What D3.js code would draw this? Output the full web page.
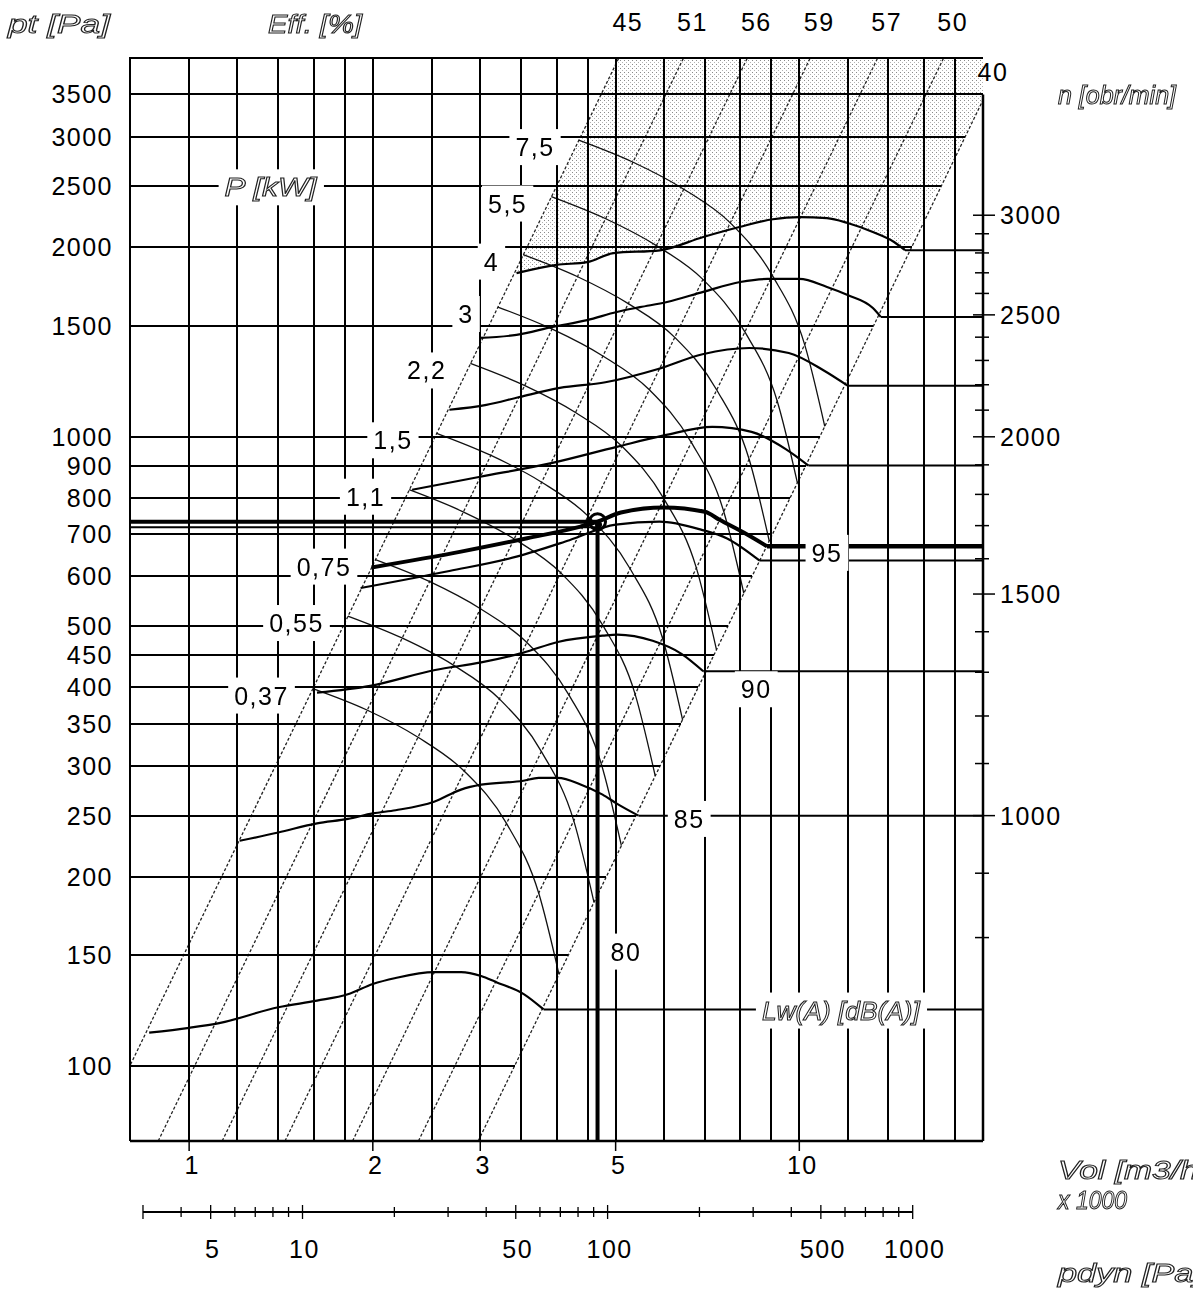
<!DOCTYPE html>
<html lang="en">
<head>
<meta charset="UTF-8" />
<title>Fan chart – pt / Vol</title>
<script src="https://d3js.org/d3.v7.min.js"></script>
<style>
  * { margin:0; padding:0; box-sizing:border-box }
  body { background:#fff; width:1193px; height:1293px; overflow:hidden; }
  text { font-family:'Liberation Sans',Arial,sans-serif; font-size:25px; fill:#000; letter-spacing:1.5px; }
  .ital { font-style:italic; font-size:25px; fill:#fff; stroke:#222; stroke-width:1px; letter-spacing:0; }
</style>
</head>
<body>
<div id="chart"></div>
<script>
// ── grid & axes ─────────────────────────────
const qGrid  = [1,1.2,1.4,1.6,1.8,2,2.5,3,3.5,4,4.5,5,6,7,8,9,10,12,14,16,18];
const pGrid  = [100,150,200,250,300,350,400,450,500,600,700,800,900,1000,1500,2000,2500,3000,3500];
const qTicks = [1,2,3,5,10];
const nTicks = [800,900,1000,1100,1200,1300,1400,1500,1600,1700,1800,1900,2000,
                2100,2200,2300,2400,2500,2600,2700,2800,2900,3000];
const nMajor = [1000,1500,2000,2500,3000];
const pdynTicks  = [3,4,5,6,7,8,9,10,20,30,40,50,60,70,80,90,100,200,300,400,500,600,700,800,900,1000];
const pdynLabels = [5,10,50,100,500,1000];
const pdynFactor = 4.25;           // pdyn = factor * Q^2

// ── efficiency lines (p ~ Q^2), flow at 76 Pa and at 4000 Pa ──
const effLabels  = [45,51,56,59,57,50,40];
const effQBottom = [0.697,0.890,1.133,1.436,1.853,2.376,2.977];
const effQTop    = [5.06,6.46,8.22,10.42,13.44,17.24,21.6];

// ── fan curves per speed [obr/min] ──────────
const q700  = [0.86,1.0,1.12,1.4,1.62,1.82,2.0,2.18,2.52,2.79,3.01,3.18,3.54,3.81];
const p700  = [113,115,117,124,127,130,135,138,141,141,139,136,130,123];
const q1000 = [1.21,1.4,1.62,1.82,2.0,2.18,2.52,2.79,3.01,3.53,3.74,4.02,4.39,4.76,5.03,5.45];
const p1000 = [228,235,243,247,252,255,263,275,280,284,287,287,280,270,261,250];
const q1300 = [1.62,1.98,2.53,3.01,3.53,4.02,4.76,5.03,5.75,6.41,6.96];
const p1300 = [392,402,426,438,454,472,483,485,474,452,424];
const q1600 = [1.91,2.67,3.44,4.2,5.0,5.9,6.9,7.6,8.6];
const p1600 = [575,612,645,685,725,733,712,690,636];
const q1900 = [2.32,3.0,3.94,5.02,6.0,7.2,8.35,9.5,10.35];
const p1900 = [824,864,909,964,1005,1037,1018,956,900];
const q2200 = [2.67,3.07,3.48,4.05,4.81,5.87,6.94,8.28,9.61,10.95,12.0];
const p2200 = [1104,1124,1157,1196,1221,1282,1353,1384,1359,1276,1206];
const q2500 = [2.99,3.44,3.94,4.49,5.02,5.48,6.07,6.96,8.0,8.87,10.0,11.1,12.0,13.2,13.6];
const p2500 = [1436,1452,1495,1533,1579,1607,1638,1700,1762,1782,1782,1730,1680,1602,1551];
const q2800 = [3.44,4.0,4.49,4.96,5.91,6.96,7.98,9.05,10.0,11.1,12.0,13.2,14.3,14.9];
const p2800 = [1820,1876,1895,1959,1979,2078,2155,2217,2235,2226,2187,2116,2040,1980];

// selected speed and operating point
const qSel = [1.99,2.79,3.58,4.38,4.67,5.1,6.0,7.0,7.4,8.2,8.85];
const pSel = [620,657,690,720,733,758,772,760,738,700,670];
const opQ = 4.67, opP = 733, opP2 = 718;

// ── motor power lines P [kW] ────────────────
const powerLabels = ["0,37","0,55","0,75","1,1","1,5","2,2","3","4","5,5","7,5"];
const powerQ = [
  [1.595,1.956,2.372,2.826,3.312,3.742,4.037],
  [1.820,2.232,2.707,3.226,3.779,4.271,4.608],
  [2.019,2.475,3.002,3.577,4.191,4.737,5.110],
  [2.294,2.812,3.411,4.064,4.762,5.381,5.806],
  [2.544,3.118,3.782,4.507,5.281,5.967,6.438],
  [2.890,3.543,4.297,5.120,6.000,6.780,7.315],
  [3.205,3.929,4.765,5.678,6.653,7.518,8.111],
  [3.527,4.324,5.245,6.250,7.323,8.275,8.928],
  [3.922,4.808,5.832,6.950,8.143,9.202,9.928],
  [4.349,5.332,6.467,7.706,9.030,10.204,11.008]
];
const powerP = [
  [398,368,333,294,243,188,140],
  [519,479,434,383,316,245,182],
  [638,589,533,471,389,302,224],
  [824,760,688,608,502,390,289],
  [1013,935,847,748,617,479,355],
  [1308,1207,1093,966,797,619,459],
  [1608,1484,1344,1188,980,761,564],
  [1948,1798,1628,1439,1187,921,683],
  [2409,2223,2013,1779,1468,1139,845],
  [2962,2734,2475,2188,1805,1401,1039]
];

// ── noise labels Lw(A) [dB(A)] ───────────────
const noiseLabels = ["95","90","85","80"];
const noiseQ = [11.1,8.5,6.6,5.2];
const noiseP = [654,397,247,152];

// ── chart ───────────────────────────────────
const W = 1193, H = 1293;
const x = d3.scaleLog().domain([0.8, 20]).range([130, 983]);
const y = d3.scaleLog().domain([76, 4000]).range([1141, 58]);
const nScale = d3.scaleLog()
  .domain([1000*Math.sqrt(76/250), 1000*Math.sqrt(4000/250)])
  .range(y.range());
const pd = d3.scaleLog().domain([3,1000])
  .range([x(Math.sqrt(3/pdynFactor)), x(Math.sqrt(1000/pdynFactor))]);

const [x0,x1] = x.range(), [y0,y1] = y.range();

const svg = d3.select("#chart").append("svg")
  .attr("width",W).attr("height",H).style("display","block");

const defs = svg.append("defs");
defs.append("clipPath").attr("id","plot")
  .append("rect").attr("x",x0).attr("y",y1).attr("width",x1-x0).attr("height",y0-y1);
defs.append("filter").attr("id","gray")
  .append("feColorMatrix").attr("type","saturate").attr("values",0);
const pat = defs.append("pattern").attr("id","dots")
  .attr("width",4).attr("height",4).attr("patternUnits","userSpaceOnUse");
pat.append("rect").attr("width",4).attr("height",4).attr("fill","#fff");
pat.append("rect").attr("x",0).attr("y",0).attr("width",1).attr("height",1).attr("fill","#8a8a8a");
pat.append("rect").attr("x",2).attr("y",2).attr("width",1).attr("height",1).attr("fill","#b4b4b4");

const zip = (qs,ps) => qs.map((q,i)=>[q,ps[i]]);
const line = d3.line().x(d=>x(d[0])).y(d=>y(d[1]));
const smooth = d3.line().x(d=>x(d[0])).y(d=>y(d[1])).curve(d3.curveMonotoneX);

const plot = svg.append("g").attr("clip-path","url(#plot)");

// shaded (out of range) area above the top speed curve
const topCurve = zip(q2800,p2800);
const shade = [[effQTop[0],4000],[20,4000],[20,3430]]
  .concat(topCurve.slice().reverse());
plot.append("path").attr("d", line(shade) + "Z").attr("fill","url(#dots)");

// efficiency lines (dotted)
effLabels.forEach((e,i)=>{
  plot.append("path")
    .attr("d", line([[effQBottom[i],76],[effQTop[i],4000]]))
    .attr("fill","none").attr("stroke","#222").attr("stroke-width",1.3)
    .attr("stroke-dasharray","3,2");
});

// vertical grid
svg.append("g").selectAll("line").data(qGrid).join("line")
  .attr("x1",d=>x(d)).attr("x2",d=>x(d)).attr("y1",y1).attr("y2",y0)
  .attr("stroke","#000").attr("stroke-width",2).attr("shape-rendering","crispEdges");

// horizontal grid – up to the 40 % line
const q40 = p => Math.min(20, effQTop[6]*Math.sqrt(p/4000));
svg.append("g").selectAll("line").data(pGrid).join("line")
  .attr("x1",x0).attr("x2",d=>x(q40(d))).attr("y1",d=>y(d)).attr("y2",d=>y(d))
  .attr("stroke","#000").attr("stroke-width",2).attr("shape-rendering","crispEdges");

// power lines
powerQ.forEach((qs,i)=>{
  plot.append("path").attr("d", smooth(zip(qs,powerP[i])))
    .attr("fill","none").attr("stroke","#111").attr("stroke-width",1.3);
});

// fan curves + noise lines to the right edge
const speedQ = [q700,q1000,q1300,q1600,q1900,q2200,q2500,q2800];
const speedP = [p700,p1000,p1300,p1600,p1900,p2200,p2500,p2800];
speedQ.forEach((qs,i)=>{
  const ps = speedP[i];
  plot.append("path").attr("d", smooth(zip(qs,ps)))
    .attr("fill","none").attr("stroke","#000").attr("stroke-width",2.2);
  const last = ps[ps.length-1];
  svg.append("line").attr("x1",x(qs[qs.length-1])).attr("x2",x1)
    .attr("y1",y(last)).attr("y2",y(last))
    .attr("stroke","#000").attr("stroke-width",2);
});

// selected curve and operating point
svg.append("path").attr("d", smooth(zip(qSel,pSel)))
  .attr("fill","none").attr("stroke","#000").attr("stroke-width",4);
svg.append("line").attr("x1",x(qSel[qSel.length-1])).attr("x2",x1)
  .attr("y1",y(pSel[pSel.length-1])).attr("y2",y(pSel[pSel.length-1]))
  .attr("stroke","#000").attr("stroke-width",4.5);
svg.append("line").attr("x1",x0).attr("x2",x(opQ)).attr("y1",y(opP)).attr("y2",y(opP))
  .attr("stroke","#000").attr("stroke-width",4);
svg.append("line").attr("x1",x0).attr("x2",x(opQ)).attr("y1",y(opP2)).attr("y2",y(opP2))
  .attr("stroke","#000").attr("stroke-width",2);
svg.append("line").attr("x1",x(opQ)).attr("x2",x(opQ)).attr("y1",y(opP)).attr("y2",y0)
  .attr("stroke","#000").attr("stroke-width",4);
svg.append("circle").attr("cx",x(opQ)).attr("cy",y(opP)).attr("r",8)
  .attr("fill","none").attr("stroke","#000").attr("stroke-width",3);
svg.append("circle").attr("cx",x(opQ)+1).attr("cy",y(opP)+3).attr("r",3.5)
  .attr("fill","#000");

// frame
svg.append("path").attr("d",`M${x0},${y0}V${y1}H${x1}`)
  .attr("fill","none").attr("stroke","#000").attr("stroke-width",2);
svg.append("line").attr("x1",x0).attr("x2",x1).attr("y1",y0).attr("y2",y0)
  .attr("stroke","#000").attr("stroke-width",2.5);
svg.append("line").attr("x1",x1).attr("x2",x1).attr("y1",y(3500)).attr("y2",y0)
  .attr("stroke","#000").attr("stroke-width",2.5);

// labels with white boxes
const lab = svg.append("g").attr("filter","url(#gray)");
function boxText(tx, ty, str, cls, anchor, len){
  const t = lab.append("text").attr("x",tx).attr("y",ty)
    .attr("text-anchor",anchor||"middle").attr("class",cls||null).text(str);
  if (len) t.attr("textLength",len).attr("lengthAdjust","spacingAndGlyphs");
  const b = t.node().getBBox();
  lab.insert("rect", ()=>t.node())
    .attr("x",b.x-6).attr("y",b.y-4).attr("width",b.width+12).attr("height",b.height+8)
    .attr("fill","#fff");
}
powerLabels.forEach((s,i)=>{
  boxText(x(powerQ[i][0])-24, y(powerP[i][0])+16, s, null, "end");
});
noiseLabels.forEach((s,i)=>{
  boxText(x(noiseQ[i]), y(noiseP[i])+9, s);
});
boxText(x(1.36), y(2492)+9, "P [kW]", "ital", "middle", 92);
boxText(x(11.7), y(122.5)+9, "Lw(A) [dB(A)]", "ital", "middle", 158);

// left axis labels
svg.append("g").selectAll("text").data(pGrid).join("text")
  .attr("x",113).attr("y",d=>y(d)+9).attr("text-anchor","end").text(d=>d);

// bottom flow axis
svg.append("g").selectAll("line").data(qTicks).join("line")
  .attr("x1",d=>x(d)).attr("x2",d=>x(d)).attr("y1",y0).attr("y2",y0+10)
  .attr("stroke","#000").attr("stroke-width",1.5);
svg.append("g").selectAll("text").data(qTicks).join("text")
  .attr("x",d=>x(d)+3).attr("y",1174).attr("text-anchor","middle").text(d=>d);

// pdyn axis
const pdY = 1212;
svg.append("line").attr("x1",pd(3)).attr("x2",pd(1000)).attr("y1",pdY).attr("y2",pdY)
  .attr("stroke","#000").attr("stroke-width",2);
svg.append("g").selectAll("line").data(pdynTicks).join("line")
  .attr("x1",d=>pd(d)).attr("x2",d=>pd(d))
  .attr("y1",d=>pdY-(pdynLabels.includes(d)||d===3?7:5))
  .attr("y2",d=>pdY+(pdynLabels.includes(d)||d===3?7:5))
  .attr("stroke","#000").attr("stroke-width",1.3);
svg.append("g").selectAll("text").data(pdynLabels).join("text")
  .attr("x",d=>pd(d)+2).attr("y",1258).attr("text-anchor","middle").text(d=>d);

// right speed axis
svg.append("g").selectAll("line").data(nTicks).join("line")
  .attr("x1",d=>x1-(nMajor.includes(d)?10:8)).attr("x2",d=>x1+(nMajor.includes(d)?12:6))
  .attr("y1",d=>nScale(d)).attr("y2",d=>nScale(d))
  .attr("stroke","#000").attr("stroke-width",1.5);
svg.append("g").selectAll("text").data(nMajor).join("text")
  .attr("x",1000).attr("y",d=>nScale(d)+9).text(d=>d);

// efficiency labels at the top
svg.append("g").selectAll("text").data(effLabels.slice(0,6)).join("text")
  .attr("x",(d,i)=>x(effQTop[i])+9).attr("y",31).attr("text-anchor","middle").text(d=>d);
svg.append("text").attr("x",x(20)+10).attr("y",y(3430)-19)
  .attr("text-anchor","middle").text(effLabels[6]);

// axis titles
const titles = [
  ["pt [Pa]",8,33,102],["Eff. [%]",268,33,94],["n [obr/min]",1058,104,118],
  ["Vol [m3/h]",1058,1179,150],["x 1000",1058,1209,69],["pdyn [Pa]",1058,1282,145]
];
svg.append("g").attr("filter","url(#gray)").selectAll("text").data(titles).join("text")
  .attr("class","ital").attr("x",d=>d[1]).attr("y",d=>d[2])
  .attr("textLength",d=>d[3]).attr("lengthAdjust","spacingAndGlyphs").text(d=>d[0]);
</script>
</body>
</html>
